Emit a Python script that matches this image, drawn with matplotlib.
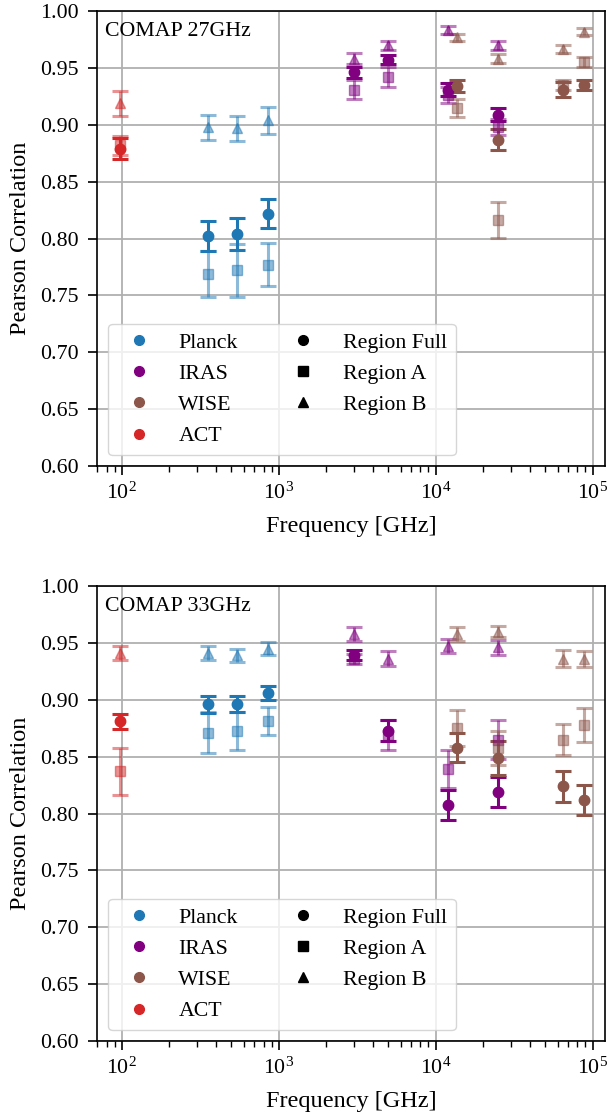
import numpy as np
import matplotlib
matplotlib.use('Agg')
import matplotlib.pyplot as plt
from matplotlib.lines import Line2D

plt.rcParams['font.family'] = 'serif'
plt.rcParams['font.serif'] = ['Liberation Serif', 'STIXGeneral', 'DejaVu Serif']
plt.rcParams['mathtext.fontset'] = 'stix'
plt.rcParams['font.size'] = 15.75

# frequencies [GHz]
freq_planck = [353, 545, 857]
freq_iras = [3000, 5000, 12000, 25000]
freq_wise = [13600, 25000, 65000, 88000]
freq_act = [98]

# COMAP 27GHz: value and error per region
planck27_full = [0.802, 0.804, 0.822]
planck27_full_err = [0.013, 0.014, 0.013]
planck27_a = [0.769, 0.772, 0.777]
planck27_a_err = [0.020, 0.023, 0.019]
planck27_b = [0.898, 0.897, 0.904]
planck27_b_err = [0.011, 0.011, 0.012]
iras27_full = [0.946, 0.957, 0.931, 0.909]
iras27_full_err = [0.0045, 0.004, 0.006, 0.006]
iras27_a = [0.931, 0.942, 0.926, 0.898]
iras27_a_err = [0.008, 0.009, 0.007, 0.007]
iras27_b = [0.958, 0.970, 0.983, 0.970]
iras27_b_err = [0.005, 0.004, 0.0035, 0.004]
wise27_full = [0.934, 0.887, 0.931, 0.935]
wise27_full_err = [0.0055, 0.0095, 0.007, 0.0045]
wise27_a = [0.915, 0.816, 0.935, 0.955]
wise27_a_err = [0.008, 0.0157, 0.004, 0.0045]
wise27_b = [0.977, 0.958, 0.967, 0.982]
wise27_b_err = [0.003, 0.004, 0.0035, 0.003]
act27_full = [0.879]
act27_full_err = [0.0095]
act27_a = [0.882]
act27_a_err = [0.0085]
act27_b = [0.919]
act27_b_err = [0.011]

# COMAP 33GHz
planck33_full = [0.896, 0.896, 0.906]
planck33_full_err = [0.0073, 0.007, 0.006]
planck33_a = [0.871, 0.8725, 0.881]
planck33_a_err = [0.018, 0.017, 0.0123]
planck33_b = [0.941, 0.939, 0.945]
planck33_b_err = [0.006, 0.006, 0.006]
iras33_full = [0.939, 0.873, 0.8075, 0.819]
iras33_full_err = [0.0044, 0.0095, 0.0135, 0.0129]
iras33_a = [0.936, 0.869, 0.839, 0.865]
iras33_a_err = [0.0045, 0.0135, 0.0165, 0.017]
iras33_b = [0.958, 0.936, 0.947, 0.946]
iras33_b_err = [0.006, 0.0066, 0.0063, 0.0063]
wise33_full = [0.858, 0.849, 0.824, 0.812]
wise33_full_err = [0.013, 0.0147, 0.0135, 0.0132]
wise33_a = [0.875, 0.858, 0.865, 0.878]
wise33_a_err = [0.016, 0.015, 0.0135, 0.0148]
wise33_b = [0.958, 0.960, 0.936, 0.936]
wise33_b_err = [0.006, 0.0045, 0.0076, 0.007]
act33_full = [0.881]
act33_full_err = [0.0064]
act33_a = [0.837]
act33_a_err = [0.0205]
act33_b = [0.941]
act33_b_err = [0.006]

surveys = ['Planck', 'IRAS', 'WISE', 'ACT']
colors = {'Planck': '#1f77b4', 'IRAS': 'purple', 'WISE': '#8c564b', 'ACT': '#d62728'}
regions = ['Region Full', 'Region A', 'Region B']
markers = {'Region Full': 'o', 'Region A': 's', 'Region B': '^'}
alphas = {'Region Full': 1.0, 'Region A': 0.5, 'Region B': 0.5}

freqs = {'Planck': freq_planck, 'IRAS': freq_iras, 'WISE': freq_wise, 'ACT': freq_act}
data27 = {
    'Planck': [(planck27_full, planck27_full_err), (planck27_a, planck27_a_err), (planck27_b, planck27_b_err)],
    'IRAS': [(iras27_full, iras27_full_err), (iras27_a, iras27_a_err), (iras27_b, iras27_b_err)],
    'WISE': [(wise27_full, wise27_full_err), (wise27_a, wise27_a_err), (wise27_b, wise27_b_err)],
    'ACT': [(act27_full, act27_full_err), (act27_a, act27_a_err), (act27_b, act27_b_err)],
}
data33 = {
    'Planck': [(planck33_full, planck33_full_err), (planck33_a, planck33_a_err), (planck33_b, planck33_b_err)],
    'IRAS': [(iras33_full, iras33_full_err), (iras33_a, iras33_a_err), (iras33_b, iras33_b_err)],
    'WISE': [(wise33_full, wise33_full_err), (wise33_a, wise33_a_err), (wise33_b, wise33_b_err)],
    'ACT': [(act33_full, act33_full_err), (act33_a, act33_a_err), (act33_b, act33_b_err)],
}

fig = plt.figure(figsize=(6.07, 11.2), dpi=100)
ax_top = fig.add_axes([0.1606, 0.5839, 0.8361, 0.40625])
ax_bot = fig.add_axes([0.1606, 0.0705, 0.8361, 0.40625])

def draw_panel(ax, data, title):
    for s in surveys:
        for r, (vals, errs) in zip(regions, data[s]):
            ax.errorbar(freqs[s], vals, yerr=errs, fmt=markers[r], color=colors[s],
                        alpha=alphas[r], markersize=7.5, elinewidth=2.2, capsize=6, capthick=2.2)
    ax.set_xscale('log')
    ax.set_xlim(70, 1.2e5)
    ax.set_ylim(0.60, 1.00)
    ax.set_yticks(np.arange(0.60, 1.001, 0.05))
    ax.yaxis.set_major_formatter(matplotlib.ticker.FormatStrFormatter('%.2f'))
    ax.grid(True, which='major', color='#b0b0b0', linewidth=1.3)
    ax.set_axisbelow(True)
    ax.tick_params(which='major', length=6.7, width=1.2)
    ax.tick_params(which='minor', length=4.1, width=1.0)
    ax.tick_params(axis='y', which='major', pad=7)
    ax.tick_params(axis='x', which='major', pad=5)
    for sp in ax.spines.values():
        sp.set_linewidth(1.2)
    ax.set_xlabel('Frequency [GHz]', fontsize=17.5, labelpad=9)
    ax.set_ylabel('Pearson Correlation', fontsize=17.5, labelpad=6)
    ax.text(0.015, 0.975, title, transform=ax.transAxes, ha='left', va='top')

    handles = [Line2D([], [], marker='o', color=colors[s], linestyle='none', markersize=7, label=s)
               for s in surveys]
    handles += [Line2D([], [], marker=markers[r], color='black', linestyle='none', markersize=7, label=r)
                for r in regions]
    ax.legend(handles=handles, loc='lower left', ncol=2)

draw_panel(ax_top, data27, 'COMAP 27GHz')
draw_panel(ax_bot, data33, 'COMAP 33GHz')

fig.savefig('out.png', dpi=100)
